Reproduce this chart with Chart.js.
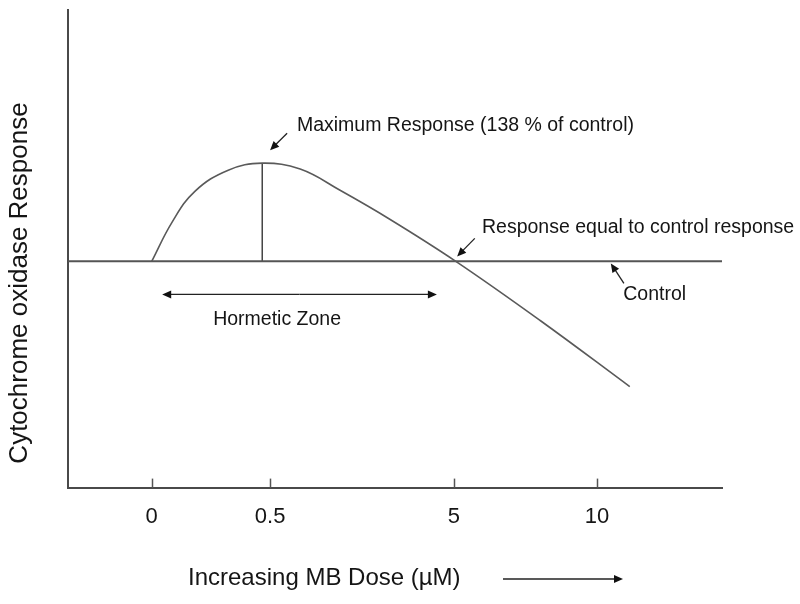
<!DOCTYPE html>
<html>
<head>
<meta charset="utf-8">
<script src="https://cdn.jsdelivr.net/npm/chart.js@4.4.1/dist/chart.umd.min.js"></script>
<style>
    html, body { margin: 0; padding: 0; background: #fff; }
    #wrap { width: 800px; height: 604px; }
</style>
</head>
<body>
<div id="wrap"><canvas id="myChart"></canvas></div>
<script>
// dose axis: tick labels and where they sit on the (unitless) dose axis
const doseLabels = ['0', '0.5', '5', '10'];
const dosePos = [12.8, 30.9, 59.0, 80.9];

// response curve, % of control
const curveX = [12.8, 15.9, 19.4, 24.5, 29.7, 35.5, 41.6, 49.2, 59.3, 72.2, 85.9];
const curveY = [100, 115.1, 127.1, 135.3, 138, 135.7, 127.5, 116.3, 100, 77.1, 51.5];

// control level
const controlX = [0, 100];
const controlY = [100, 100];

// maximum response marker
const peakX = [29.7, 29.7];
const peakY = [100, 138];

const toPoints = (xs, ys) => xs.map((x, i) => ({ x: x, y: ys[i] }));

const lineColor = '#555555';
const textColor = '#151515';
const fontFamily = 'Arial, "Liberation Sans", sans-serif';

// text notes inside the plot (in axis units)
const notes = [
    { text: 'Maximum Response (138 % of control)', x: 35.0, y: 152.7 },
    { text: 'Response equal to control response', x: 63.3, y: 113.2 },
    { text: 'Control', x: 84.9, y: 87.2 },
    { text: 'Hormetic Zone', x: 22.2, y: 77.5 }
];
const pointers = [
    { from: [33.5, 149.6], to: [30.9, 143.0] },
    { from: [62.2, 108.9], to: [59.5, 101.9] },
    { from: [85.0, 91.5], to: [83.0, 99.2] },
    { from: [35.4, 87.2], to: [14.4, 87.2] },
    { from: [35.4, 87.2], to: [56.4, 87.2] }
];

function arrow(ctx, x1, y1, x2, y2) {
    const ang = Math.atan2(y2 - y1, x2 - x1);
    const len = 9, half = 4;
    ctx.beginPath();
    ctx.moveTo(x1, y1);
    ctx.lineTo(x2 - Math.cos(ang) * len * 0.7, y2 - Math.sin(ang) * len * 0.7);
    ctx.stroke();
    ctx.beginPath();
    ctx.moveTo(x2, y2);
    ctx.lineTo(x2 - Math.cos(ang) * len - Math.sin(ang) * half, y2 - Math.sin(ang) * len + Math.cos(ang) * half);
    ctx.lineTo(x2 - Math.cos(ang) * len + Math.sin(ang) * half, y2 - Math.sin(ang) * len - Math.cos(ang) * half);
    ctx.closePath();
    ctx.fill();
}

// tick marks, notes, arrows and axis titles
const decorPlugin = {
    id: 'decor',
    afterDraw(chart) {
        const ctx = chart.ctx;
        const xs = chart.scales.x;
        const ys = chart.scales.y;
        const bottom = chart.chartArea.bottom;

        ctx.save();
        ctx.strokeStyle = lineColor;
        ctx.fillStyle = '#111';
        ctx.lineWidth = 1.5;
        dosePos.forEach(v => {
            const px = Math.round(xs.getPixelForValue(v)) + 0.5;
            ctx.beginPath();
            ctx.moveTo(px, bottom);
            ctx.lineTo(px, bottom - 9);
            ctx.stroke();
        });

        ctx.strokeStyle = '#222';
        ctx.lineWidth = 1.3;
        pointers.forEach(p => {
            arrow(ctx, xs.getPixelForValue(p.from[0]), ys.getPixelForValue(p.from[1]),
                xs.getPixelForValue(p.to[0]), ys.getPixelForValue(p.to[1]));
        });

        ctx.fillStyle = textColor;
        ctx.textBaseline = 'middle';
        ctx.textAlign = 'left';
        ctx.font = '19.5px ' + fontFamily;
        notes.forEach(n => {
            ctx.fillText(n.text, xs.getPixelForValue(n.x), ys.getPixelForValue(n.y));
        });

        // x axis title with its arrow
        ctx.font = '24px ' + fontFamily;
        ctx.fillText('Increasing MB Dose (\u00b5M)', 188, 578);
        ctx.fillStyle = '#111';
        arrow(ctx, 503, 579, 623, 579);

        // y axis title
        ctx.fillStyle = textColor;
        ctx.font = '26px ' + fontFamily;
        ctx.textAlign = 'center';
        ctx.translate(20, 283);
        ctx.rotate(-Math.PI / 2);
        ctx.fillText('Cytochrome oxidase Response', 0, 0);
        ctx.restore();
    }
};

const ctx = document.getElementById('myChart').getContext('2d');

const myChart = new Chart(ctx, {
    type: 'line',
    data: {
        datasets: [{
            label: 'response',
            data: toPoints(curveX, curveY),
            borderColor: '#5a5a5a',
            borderWidth: 1.6,
            pointRadius: 0,
            tension: 0.4
        }, {
            label: 'control',
            data: toPoints(controlX, controlY),
            borderColor: lineColor,
            borderWidth: 2,
            pointRadius: 0
        }, {
            label: 'max',
            data: toPoints(peakX, peakY),
            borderColor: '#444',
            borderWidth: 1.5,
            pointRadius: 0
        }]
    },
    options: {
        responsive: true,
        maintainAspectRatio: false,
        animation: false,
        layout: {
            padding: { left: 68, right: 78, top: 10, bottom: 58 }
        },
        plugins: {
            legend: { display: false },
            tooltip: { enabled: false }
        },
        scales: {
            x: {
                type: 'linear',
                min: 0,
                max: 100,
                grid: { display: false, drawTicks: false },
                border: { display: true, color: '#4a4a4a', width: 2 },
                afterBuildTicks: scale => {
                    scale.ticks = dosePos.map(v => ({ value: v }));
                },
                ticks: {
                    autoSkip: false,
                    maxRotation: 0,
                    padding: 16,
                    color: textColor,
                    font: { family: fontFamily, size: 22 },
                    callback: (value, index) => doseLabels[index]
                }
            },
            y: {
                type: 'linear',
                min: 12.4,
                max: 197.3,
                grid: { display: false, drawTicks: false },
                border: { display: true, color: '#4a4a4a', width: 2 },
                ticks: { display: false }
            }
        }
    },
    plugins: [decorPlugin]
});
</script>
</body>
</html>
